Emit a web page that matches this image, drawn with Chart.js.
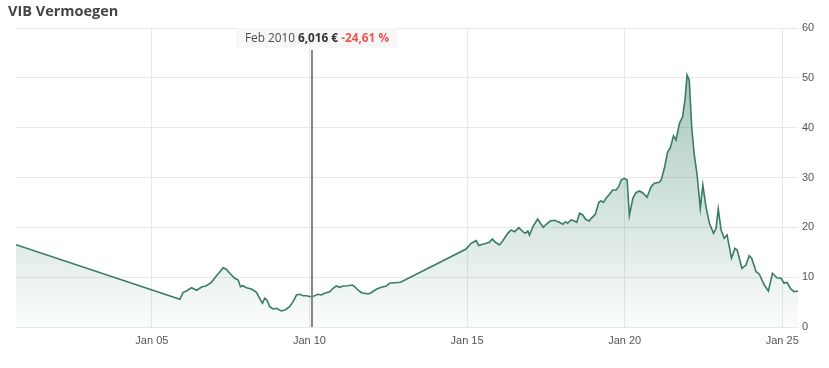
<!DOCTYPE html>
<html>
<head>
<meta charset="utf-8">
<script src="https://cdn.jsdelivr.net/npm/chart.js@4.4.0/dist/chart.umd.min.js"></script>
<style>
  html, body { margin: 0; padding: 0; background: #ffffff; }
  #wrap { position: relative; width: 829px; height: 368px; }
  canvas { display: block; }
</style>
</head>
<body>
<div id="wrap"><canvas id="c" width="829" height="368"></canvas></div>
<script>
// ---- data (dates as decimal years) ----
const chartTitle = 'VIB Vermoegen';
const dates = [
  2000.69,
  2005.89, 2005.99, 2006.10, 2006.26, 2006.42, 2006.58, 2006.73, 2006.89,
  2007.05, 2007.16, 2007.26, 2007.35, 2007.47, 2007.63, 2007.74, 2007.81, 2007.89,
  2008.00, 2008.16, 2008.32, 2008.42, 2008.51, 2008.58, 2008.65, 2008.74, 2008.84, 2008.95,
  2009.11, 2009.22, 2009.37, 2009.48, 2009.59, 2009.69, 2009.80, 2009.90,
  2010.01, 2010.08, 2010.17, 2010.27, 2010.38, 2010.48, 2010.64, 2010.75, 2010.85, 2010.96,
  2011.06, 2011.22, 2011.36, 2011.43, 2011.54, 2011.65, 2011.75, 2011.86, 2011.96,
  2012.12, 2012.28, 2012.44, 2012.54, 2012.70, 2012.89,
  2014.97, 2015.13, 2015.29, 2015.37, 2015.50, 2015.61, 2015.71, 2015.80, 2015.90,
  2016.03, 2016.13, 2016.29, 2016.40, 2016.51, 2016.64, 2016.77, 2016.85, 2016.93, 2016.98,
  2017.09, 2017.24, 2017.35, 2017.42, 2017.51, 2017.64, 2017.77, 2017.93,
  2018.04, 2018.12, 2018.19, 2018.30, 2018.41, 2018.48, 2018.57, 2018.67, 2018.76, 2018.88, 2018.94,
  2019.07, 2019.18, 2019.25, 2019.33, 2019.41, 2019.52, 2019.62, 2019.73, 2019.81, 2019.89, 2019.99,
  2020.08, 2020.15, 2020.26, 2020.36, 2020.47, 2020.57, 2020.71, 2020.84, 2020.94,
  2021.10, 2021.16, 2021.26, 2021.36, 2021.45, 2021.55, 2021.63, 2021.74, 2021.84, 2021.92, 2021.98,
  2022.05, 2022.13, 2022.21, 2022.30, 2022.40, 2022.48, 2022.58, 2022.69, 2022.82, 2022.90, 2022.97,
  2023.06, 2023.16, 2023.25, 2023.39, 2023.50, 2023.57, 2023.72, 2023.85, 2023.95,
  2024.03, 2024.17, 2024.27, 2024.43, 2024.56, 2024.69, 2024.83, 2024.96,
  2025.06, 2025.15, 2025.27, 2025.38, 2025.50
];
const values = [
  16.5,
  5.56, 6.96, 7.22, 7.89, 7.37, 8.03, 8.29, 8.97,
  10.29, 11.10, 11.90, 11.64, 10.78, 9.77, 9.43, 8.09, 8.29,
  7.89, 7.63, 6.96, 5.76, 4.76, 5.76, 5.42, 4.07, 3.61, 3.75,
  3.21, 3.41, 4.07, 5.08, 6.42, 6.56, 6.28, 6.28,
  6.12, 6.016, 6.30, 6.56, 6.42, 6.76, 7.08, 7.77, 8.23, 7.97,
  8.23, 8.29, 8.43, 8.09, 7.43, 6.88, 6.76, 6.62, 6.88,
  7.57, 7.97, 8.23, 8.77, 8.89, 8.97,
  15.65, 16.80, 17.32, 16.36, 16.60, 16.80, 17.00, 17.66, 17.00,
  16.46, 17.26, 18.80, 19.47, 19.13, 19.93, 19.13, 18.80, 19.27, 18.46,
  20.13, 21.67, 20.61, 20.01, 20.61, 21.27, 21.41, 21.01,
  20.61, 21.13, 20.81, 21.47, 21.27, 21.01, 22.82, 22.48, 21.61, 21.27, 21.81,
  22.62, 25.02, 25.29, 25.02, 25.83, 26.63, 27.49, 27.49, 28.16, 29.50, 29.84,
  29.50, 22.34, 25.83, 26.95, 27.29, 26.95, 26.03, 28.16, 28.84,
  29.04, 29.50, 31.85, 35.06, 35.98, 38.39, 37.53, 40.88, 42.20, 45.90, 50.57,
  49.57, 39.88, 34.52, 30.50, 23.82, 28.50, 24.14, 20.81, 18.80, 19.81, 23.68,
  19.47, 17.80, 18.46, 13.79, 15.79, 15.45, 11.78, 12.44, 14.31,
  13.79, 11.10, 10.64, 8.43, 7.22, 10.78, 9.89, 9.77,
  8.77, 8.97, 7.63, 7.08, 7.22
];
const tickYears = [2005, 2010, 2015, 2020, 2025];
const tickLabels = ['Jan 05', 'Jan 10', 'Jan 15', 'Jan 20', 'Jan 25'];
const yTicks = [0, 10, 20, 30, 40, 50, 60];

// tooltip marker
const markerDate = 2010.08;
const markerLabel = 'Feb 2010';
const markerValue = '6,016 €';
const markerChange = '-24,61 %';

const points = dates.map((d, i) => ({ x: d, y: values[i] }));

const titlePlugin = {
  id: 'sideTitle',
  afterDraw(chart) {
    const ctx = chart.ctx;
    ctx.save();
    ctx.font = 'bold 14.5px "Open Sans", sans-serif';
    ctx.fillStyle = '#444444';
    ctx.textBaseline = 'middle';
    ctx.textAlign = 'left';
    ctx.fillText(chartTitle, 8, 12);
    ctx.restore();
  }
};

const markerPlugin = {
  id: 'marker',
  afterDatasetsDraw(chart) {
    const { ctx, chartArea, scales } = chart;
    const px = scales.x.getPixelForValue(markerDate);
    ctx.save();
    // crosshair line
    ctx.strokeStyle = '#858585';
    ctx.lineWidth = 2;
    ctx.beginPath();
    ctx.moveTo(px, 50);
    ctx.lineTo(px, chartArea.bottom);
    ctx.stroke();
    // label
    const fNorm = '11.8px "Open Sans", sans-serif';
    const fBold = 'bold 11.8px "Open Sans", sans-serif';
    ctx.font = fNorm;
    const w1 = ctx.measureText(markerLabel + ' ').width;
    ctx.font = fBold;
    const w2 = ctx.measureText(markerValue + ' ').width;
    const w3 = ctx.measureText(markerChange).width;
    const total = w1 + w2 + w3;
    const startX = px + 5 - total / 2;
    ctx.fillStyle = 'rgba(246,246,246,0.9)';
    ctx.fillRect(startX - 9, 28, total + 18, 20);
    ctx.textBaseline = 'middle';
    ctx.textAlign = 'left';
    const ty = 38.5;
    ctx.font = fNorm;
    ctx.fillStyle = '#4a4a4a';
    ctx.fillText(markerLabel, startX, ty);
    ctx.font = fBold;
    ctx.fillStyle = '#333333';
    ctx.fillText(markerValue, startX + w1, ty);
    ctx.fillStyle = '#ef5350';
    ctx.fillText(markerChange, startX + w1 + w2, ty);
    ctx.restore();
  }
};

const ctx = document.getElementById('c').getContext('2d');
new Chart(ctx, {
  type: 'line',
  data: {
    datasets: [{
      data: points,
      borderColor: '#3a7c66',
      borderWidth: 1.6,
      pointRadius: 0,
      tension: 0,
      fill: 'origin',
      backgroundColor: (context) => {
        const chart = context.chart;
        const ca = chart.chartArea;
        if (!ca) return 'rgba(50,125,100,0.2)';
        const g = chart.ctx.createLinearGradient(0, ca.top, 0, ca.bottom);
        g.addColorStop(0, 'rgba(50,125,100,0.50)');
        g.addColorStop(1, 'rgba(50,125,100,0.02)');
        return g;
      }
    }]
  },
  options: {
    responsive: false,
    animation: false,
    events: [],
    layout: { padding: { left: 16, top: 28, right: 0, bottom: 0 } },
    plugins: {
      legend: { display: false },
      title: { display: false },
      tooltip: { enabled: false }
    },
    scales: {
      x: {
        type: 'linear',
        min: dates[0],
        max: dates[dates.length - 1],
        afterBuildTicks: (scale) => { scale.ticks = tickYears.map(v => ({ value: v })); },
        afterFit: (scale) => { scale.height = 41; },
        grid: { color: '#e8e8e8', lineWidth: 1, drawTicks: false },
        border: { display: false },
        ticks: {
          padding: 7,
          color: '#555555',
          font: { family: '"Liberation Sans", Arial, sans-serif', size: 11 },
          maxRotation: 0,
          autoSkip: false,
          callback: (v) => { const i = tickYears.indexOf(v); return i >= 0 ? tickLabels[i] : ''; }
        }
      },
      y: {
        position: 'right',
        min: yTicks[0],
        max: yTicks[yTicks.length - 1],
        afterBuildTicks: (scale) => { scale.ticks = yTicks.map(v => ({ value: v })); },
        afterFit: (scale) => { scale.width = 31; },
        grid: { color: '#e8e8e8', lineWidth: 1, drawTicks: false },
        border: { display: false },
        ticks: {
          padding: 4,
          color: '#555555',
          font: { family: '"Liberation Sans", Arial, sans-serif', size: 11 },
          callback: (v) => String(v)
        }
      }
    }
  },
  plugins: [titlePlugin, markerPlugin]
});
</script>
</body>
</html>
